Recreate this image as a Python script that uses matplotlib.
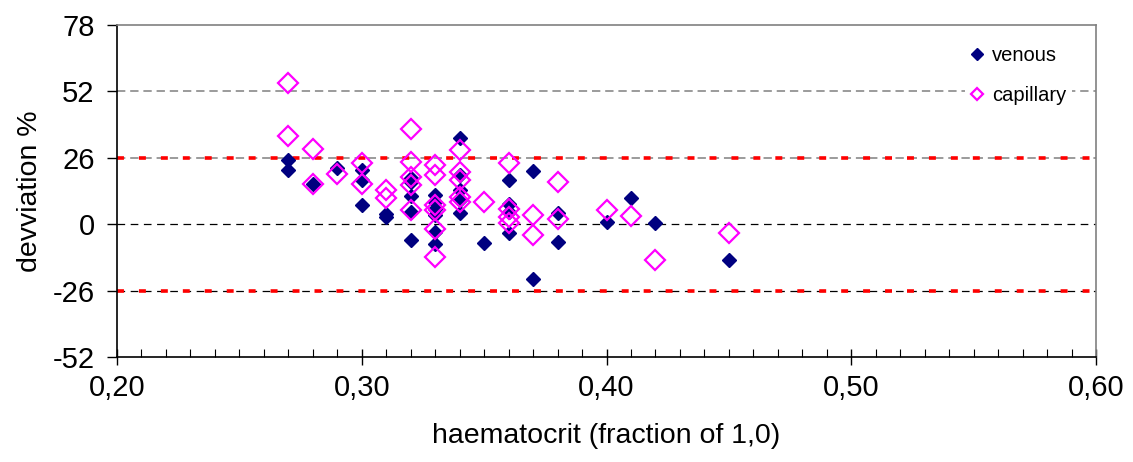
import matplotlib
matplotlib.use("Agg")
import matplotlib.pyplot as plt
from matplotlib.ticker import FixedLocator, MultipleLocator, FuncFormatter

plt.rcParams['font.family'] = ['Liberation Sans', 'DejaVu Sans']
plt.rcParams['lines.scale_dashes'] = False

# ---- data ----
venous_x = [0.27, 0.27, 0.28, 0.29, 0.30, 0.30, 0.30, 0.31, 0.31,
            0.32, 0.32, 0.32, 0.32, 0.32,
            0.33, 0.33, 0.33, 0.33, 0.33, 0.33,
            0.34, 0.34, 0.34, 0.34, 0.34,
            0.35, 0.36, 0.36, 0.36, 0.36, 0.37, 0.37, 0.38, 0.38,
            0.40, 0.41, 0.42, 0.45]
venous_y = [25.1, 21.4, 15.9, 22.2, 21.1, 17.2, 7.4, 3.9, 3.0,
            17.9, 16.6, 11.0, 4.8, -6.3,
            11.4, 8.7, 6.1, 3.5, -3.0, -7.6,
            33.6, 19.2, 13.3, 9.4, 4.2,
            -7.5, 17.5, 8.1, 4.8, -3.6, 20.9, -21.3, 4.2, -6.9,
            0.9, 10.3, 0.5, -14.1]

capillary_x = [0.27, 0.27, 0.28, 0.28, 0.29, 0.30, 0.30, 0.31, 0.31,
               0.32, 0.32, 0.32, 0.32, 0.32,
               0.33, 0.33, 0.33, 0.33, 0.33, 0.33,
               0.34, 0.34, 0.34, 0.34, 0.34,
               0.35, 0.36, 0.36, 0.36, 0.36, 0.37, 0.37, 0.38, 0.38,
               0.40, 0.41, 0.42, 0.45]
capillary_y = [55.3, 34.5, 29.6, 15.9, 19.8, 24.0, 15.9, 13.3, 10.1,
               37.2, 24.4, 18.5, 15.3, 5.5,
               23.1, 19.2, 7.4, 5.5, -1.7, -12.8,
               29.0, 20.5, 17.2, 10.7, 8.5,
               8.7, 23.8, 6.1, 2.9, 0.3, 3.5, -4.3, 16.6, 2.2,
               5.5, 3.1, -14.1, -3.4]

limit_levels = [26, -26]
y_ticks = [-52, -26, 0, 26, 52, 78]
x_ticks = [0.20, 0.30, 0.40, 0.50, 0.60]

# ---- figure ----
fig = plt.figure(figsize=(11.33, 4.62), dpi=100)
ax = fig.add_axes([117/1133, 1-357/462, (1096-117)/1133, (357-25)/462])

# reference lines
ax.axhline(52, color='#808080', lw=1.1, dashes=(6, 3.5), zorder=1)
ax.axhline(26, color='#808080', lw=1.1, dashes=(6, 3.5), zorder=1)
ax.axhline(0, color='black', lw=0.9, dashes=(5.5, 4), zorder=1)
ax.axhline(-26, color='black', lw=0.9, dashes=(5.5, 4), zorder=1)
for lv in limit_levels:
    ax.axhline(lv, color='#ff0000', lw=2.6, dashes=(5, 10.8), zorder=2)

ax.plot(venous_x, venous_y, linestyle='none', marker='D', ms=7.0,
        color='#000080', mec='#000080', label='venous', zorder=3)
ax.plot(capillary_x, capillary_y, linestyle='none', marker='D', ms=9.8,
        mfc='none', mec='#ff00ff', mew=1.6, label='capillary', zorder=4)

ax.set_xlim(0.20, 0.60)
ax.set_ylim(-52, 78)
ax.xaxis.set_major_locator(FixedLocator(x_ticks))
ax.xaxis.set_minor_locator(MultipleLocator(0.01))
ax.yaxis.set_major_locator(FixedLocator(y_ticks))
ax.xaxis.set_major_formatter(FuncFormatter(lambda v, p: f"{v:.2f}".replace('.', ',')))
ax.yaxis.set_major_formatter(FuncFormatter(lambda v, p: f"{v:.0f}"))

ax.tick_params(axis='x', which='major', direction='inout', length=11, width=1,
               labelsize=21, pad=7)
ax.tick_params(axis='x', which='minor', direction='in', length=5.5, width=0.8)
ax.tick_params(axis='y', which='major', direction='out', length=7, width=1,
               labelsize=21, pad=9)

for s in ['left', 'bottom']:
    ax.spines[s].set_color('black')
    ax.spines[s].set_linewidth(1.2)
for s in ['top', 'right']:
    ax.spines[s].set_color('#808080')
    ax.spines[s].set_linewidth(1.2)

ax.set_xlabel('haematocrit (fraction of 1,0)', fontsize=20.5, labelpad=15)
ax.set_ylabel('devviation %', fontsize=20.5, labelpad=7)

leg = ax.legend(loc='upper left', bbox_to_anchor=(965/1133, 1-40/462),
                bbox_transform=fig.transFigure, frameon=True, fontsize=14.5,
                handlelength=0.6, handletextpad=0.45, labelspacing=1.05,
                borderpad=0.3, borderaxespad=0)
leg.get_frame().set_facecolor('white')
leg.get_frame().set_edgecolor('none')
leg.get_frame().set_alpha(1)
for h in leg.legend_handles:
    h.set_markersize(6.3)

fig.savefig('out.png', dpi=100)
